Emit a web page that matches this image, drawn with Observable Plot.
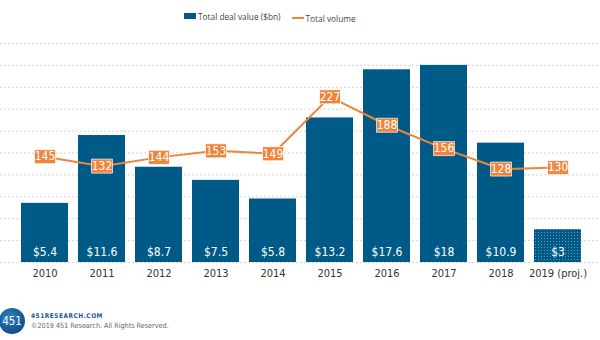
<!DOCTYPE html>
<html><head><meta charset="utf-8">
<script src="https://cdn.jsdelivr.net/npm/d3@7"></script>
<script src="https://cdn.jsdelivr.net/npm/@observablehq/plot@0.6"></script>
<style>
body{margin:0;background:#fff;}
#wrap{position:relative;width:600px;height:340px;overflow:hidden;}
#legend{position:absolute;top:10px;left:184px;white-space:nowrap;font:400 8.3px "Open Sans",sans-serif;color:#444;}
#legend span{display:inline-flex;align-items:center;}
#legend span+span{margin-left:11px;}
.sw{display:inline-block;width:12px;height:6px;background:#005a87;margin-right:2px;}
.ln{display:inline-block;width:12px;height:2px;background:#f0843c;margin-right:2px;}
#footer{position:absolute;left:0;top:305px;}
</style></head>
<body><div id="wrap">
<div id="legend"><span><i class="sw"></i>Total deal value ($bn)</span><span><i class="ln"></i>Total volume</span></div>
<div id="chart"></div>
<svg id="footer" width="200" height="34">
<defs><radialGradient id="lg" cx="0.4" cy="0.35" r="0.7"><stop offset="0" stop-color="#2f7fc0"/><stop offset="1" stop-color="#0d4b8a"/></radialGradient></defs>
<circle cx="12" cy="16" r="13" fill="url(#lg)"/>
<text x="12" y="20" text-anchor="middle" fill="#fff" font-family="Liberation Sans Narrow, DejaVu Sans Condensed, sans-serif" font-size="11.5">451</text>
<text x="31" y="12.5" fill="#1e5a96" font-family="DejaVu Sans Condensed, sans-serif" font-weight="bold" font-size="6.5" letter-spacing="0.5">451RESEARCH.COM</text>
<text x="31" y="22.5" fill="#666" font-family="Liberation Sans Narrow, DejaVu Sans Condensed, sans-serif" font-size="7.2">©2019 451 Research. All Rights Reserved.</text>
</svg>
</div>
<script>
const years = ["2010","2011","2012","2013","2014","2015","2016","2017","2018","2019 (proj.)"];
const dealValue = [5.4,11.6,8.7,7.5,5.8,13.2,17.6,18,10.9,3];
const volume = [145,132,144,153,149,227,188,156,128,130];
const projected = [false,false,false,false,false,false,false,false,false,true];
const yTicks = [0,2,4,6,8,10,12,14,16,18,20];

const data = years.map((y,i)=>({year:y, value:dealValue[i], volume:volume[i], proj:projected[i]}));
const volToY = v => v*20/300;
const blue = "#005a87", orange = "#f0843c";
const narrow = "Liberation Sans Narrow, DejaVu Sans Condensed, sans-serif";
const boxSymbol = {draw(ctx){ ctx.rect(-10.5,-7,21,14); }};

const plot = Plot.plot({
  width:600, height:340,
  marginTop:43, marginBottom:78, marginLeft:11, marginRight:9,
  style:{fontFamily:narrow, fontSize:"11px", background:"transparent"},
  x:{domain:years, padding:0.17, label:null, tickSize:0, tickPadding:7},
  y:{domain:[0,20], axis:null},
  marks:[
    Plot.ruleY(yTicks,{stroke:"#c8c8c8", strokeDasharray:"2,2", strokeWidth:0.8, x1:()=>years[0], x2:()=>years[years.length-1], insetLeft:-29, insetRight:-29}),
    Plot.barY(data.filter(d=>!d.proj),{x:"year", y:"value", fill:blue}),
    Plot.barY(data.filter(d=>d.proj),{x:"year", y:"value", fill:"url(#dotsBlue)"}),
    Plot.text(data,{x:"year", y:0, dy:-10, text:d=>"$"+d.value, fill:"#fff", fontSize:12, fontFamily:narrow}),
    Plot.line(data,{x:"year", y:d=>volToY(d.volume), stroke:orange, strokeWidth:2}),
    Plot.dot(data.filter(d=>!d.proj),{x:"year", y:d=>volToY(d.volume), symbol:boxSymbol, fill:orange, stroke:"#fff", strokeWidth:0.7}),
    Plot.dot(data.filter(d=>d.proj),{x:"year", y:d=>volToY(d.volume), symbol:boxSymbol, fill:"url(#dotsOrange)", stroke:"#fff", strokeWidth:0.7}),
    Plot.text(data,{x:"year", y:d=>volToY(d.volume), text:d=>String(d.volume), fill:"#fff", fontSize:12, fontFamily:narrow})
  ]
});
const ns="http://www.w3.org/2000/svg";
const defs=document.createElementNS(ns,"defs");
defs.innerHTML=`<pattern id="dotsBlue" width="3" height="3" patternUnits="userSpaceOnUse"><rect width="3" height="3" fill="${blue}"/><circle cx="1.5" cy="1.5" r="0.5" fill="#7fa8c2"/></pattern>
<pattern id="dotsOrange" width="3" height="3" patternUnits="userSpaceOnUse"><rect width="3" height="3" fill="${orange}"/><circle cx="1.5" cy="1.5" r="0.5" fill="#f8c8a4"/></pattern>`;
plot.insertBefore(defs, plot.firstChild);
d3.select(plot).selectAll("[aria-label='x-axis tick label'] text").attr("fill","#333");
document.getElementById("chart").appendChild(plot);
</script></body></html>
